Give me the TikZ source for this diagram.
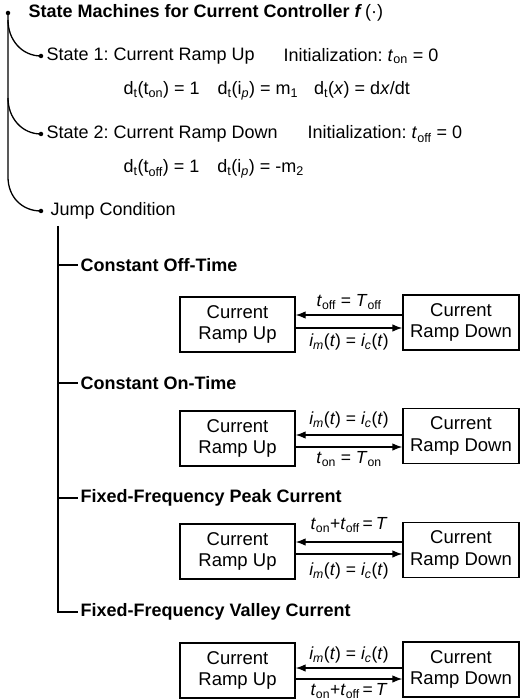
\documentclass[tikz,border=0pt]{standalone}
\usepackage{fontspec}
\setmainfont{Liberation Sans}
\usetikzlibrary{arrows.meta,calc}
\frenchspacing
\begin{document}
\begin{tikzpicture}[x=1pt,y=-1pt,line width=1.3pt,
  txt/.style={anchor=west,inner sep=0pt,font=\fontsize{18}{21}\selectfont},
  head/.style={anchor=west,inner xsep=2pt,inner ysep=0pt,font=\fontsize{18}{21}\selectfont\bfseries},
  box/.style={draw,line width=1.3pt,minimum width=115pt,minimum height=55pt,inner sep=0pt,align=center,font=\fontsize{18.5}{21.5}\selectfont},
  arr/.style={-{Latex[length=10pt,width=7.5pt]},line width=1.3pt},
  lab/.style={inner sep=0pt,font=\fontsize{17.5}{20}\selectfont},
  dot/.style={circle,fill,inner sep=0pt,minimum size=4.5pt}]
\useasboundingbox (0,0) rectangle (520,700);

% main tree
\node[dot] (root) at (8,13) {};
\node[dot] (s1) at (41,56) {};
\node[dot] (s2) at (41,134) {};
\node[dot] (jc) at (41,211) {};
\coordinate (b1) at (8,20);
\coordinate (b2) at (8,98);
\coordinate (b3) at (8,177);
\draw (root.center) -- (b3) .. controls (8,197) and (22,211) .. (jc.center);
\draw (b1) .. controls (8,40) and (22,56) .. (s1.center);
\draw (b2) .. controls (8,118) and (22,134) .. (s2.center);

\node[head,inner xsep=0pt] (title) at (28,13) {State Machines for Current Controller \textit{f}\,\textmd{(·)}};
\node[txt] (st1) at (46,56) {State 1: Current Ramp Up};
\node[txt] (in1) at (283,56) {Initialization: \textit{t}\textsubscript{on} = 0};
\node[txt] (d1) at (123,91) {d\textsubscript{t}(t\textsubscript{on}) = 1\hspace{18pt}d\textsubscript{t}(i\textsubscript{\textit{p}}) = m\textsubscript{1}\hspace{16pt}d\textsubscript{t}(\textit{x}) = d\textit{x}/dt};
\node[txt] (st2) at (46,134) {State 2: Current Ramp Down};
\node[txt] (in2) at (307,134) {Initialization: \textit{t}\textsubscript{off} = 0};
\node[txt] (d2) at (123,169) {d\textsubscript{t}(t\textsubscript{off}) = 1\hspace{18pt}d\textsubscript{t}(i\textsubscript{\textit{p}}) = -m\textsubscript{2}};
\node[txt] (jct) at (50,211) {Jump Condition};

% jump condition sub-tree
\coordinate (t0) at (58,226);
\node[head] (h1) at (78,265) {Constant Off-Time};
\node[head] (h2) at (78,383) {Constant On-Time};
\node[head] (h3) at (78,498) {Fixed-Frequency Peak Current};
\node[head] (h4) at (78,612) {Fixed-Frequency Valley Current};
\draw (t0) -- (t0 |- h4.west) -- (h4.west);
\draw (t0 |- h1.west) -- (h1.west);
\draw (t0 |- h2.west) -- (h2.west);
\draw (t0 |- h3.west) -- (h3.west);

% section 1
\node[box] (L1) at (237.5,324.5) {Current\\Ramp Up};
\node[box,minimum width=116pt] (R1) at (461,322.5) {Current\\Ramp Down};
\coordinate (u1) at (0,315);
\coordinate (v1) at (0,328);
\draw[arr] (R1.west |- u1) -- (L1.east |- u1);
\draw[arr] (L1.east |- v1) -- (R1.west |- v1);
\node[lab] (a1) at (349,302) {\textit{t}\textsubscript{off} = \textit{T}\textsubscript{off}};
\node[lab] (c1) at (349,342) {\textit{i\textsubscript{m}}(\textit{t}) = \textit{i\textsubscript{c}}(\textit{t})};

% section 2
\node[box] (L2) at (237.5,438.5) {Current\\Ramp Up};
\node[box,minimum width=116pt] (R2) at (461,436) {Current\\Ramp Down};
\coordinate (u2) at (0,435);
\coordinate (v2) at (0,447);
\draw[arr] (R2.west |- u2) -- (L2.east |- u2);
\draw[arr] (L2.east |- v2) -- (R2.west |- v2);
\node[lab] (a2) at (349,420) {\textit{i\textsubscript{m}}(\textit{t}) = \textit{i\textsubscript{c}}(\textit{t})};
\node[lab] (c2) at (349,459) {\textit{t}\textsubscript{on} = \textit{T}\textsubscript{on}};

% section 3
\node[box] (L3) at (237.5,551.5) {Current\\Ramp Up};
\node[box,minimum width=116pt] (R3) at (461,550) {Current\\Ramp Down};
\coordinate (u3) at (0,542);
\coordinate (v3) at (0,554);
\draw[arr] (R3.west |- u3) -- (L3.east |- u3);
\draw[arr] (L3.east |- v3) -- (R3.west |- v3);
\node[lab] (a3) at (349,525) {\textit{t}\textsubscript{on}+\textit{t}\textsubscript{off}\,=\,\textit{T}};
\node[lab] (c3) at (349,571) {\textit{i\textsubscript{m}}(\textit{t}) = \textit{i\textsubscript{c}}(\textit{t})};

% section 4
\node[box] (L4) at (237.5,670.5) {Current\\Ramp Up};
\node[box,minimum width=116pt] (R4) at (461,669.5) {Current\\Ramp Down};
\coordinate (u4) at (0,668);
\coordinate (v4) at (0,679);
\draw[arr] (R4.west |- u4) -- (L4.east |- u4);
\draw[arr] (L4.east |- v4) -- (R4.west |- v4);
\node[lab] (a4) at (349,655) {\textit{i\textsubscript{m}}(\textit{t}) = \textit{i\textsubscript{c}}(\textit{t})};
\node[lab] (c4) at (349,691) {\textit{t}\textsubscript{on}+\textit{t}\textsubscript{off}\,=\,\textit{T}};
\end{tikzpicture}
\end{document}
